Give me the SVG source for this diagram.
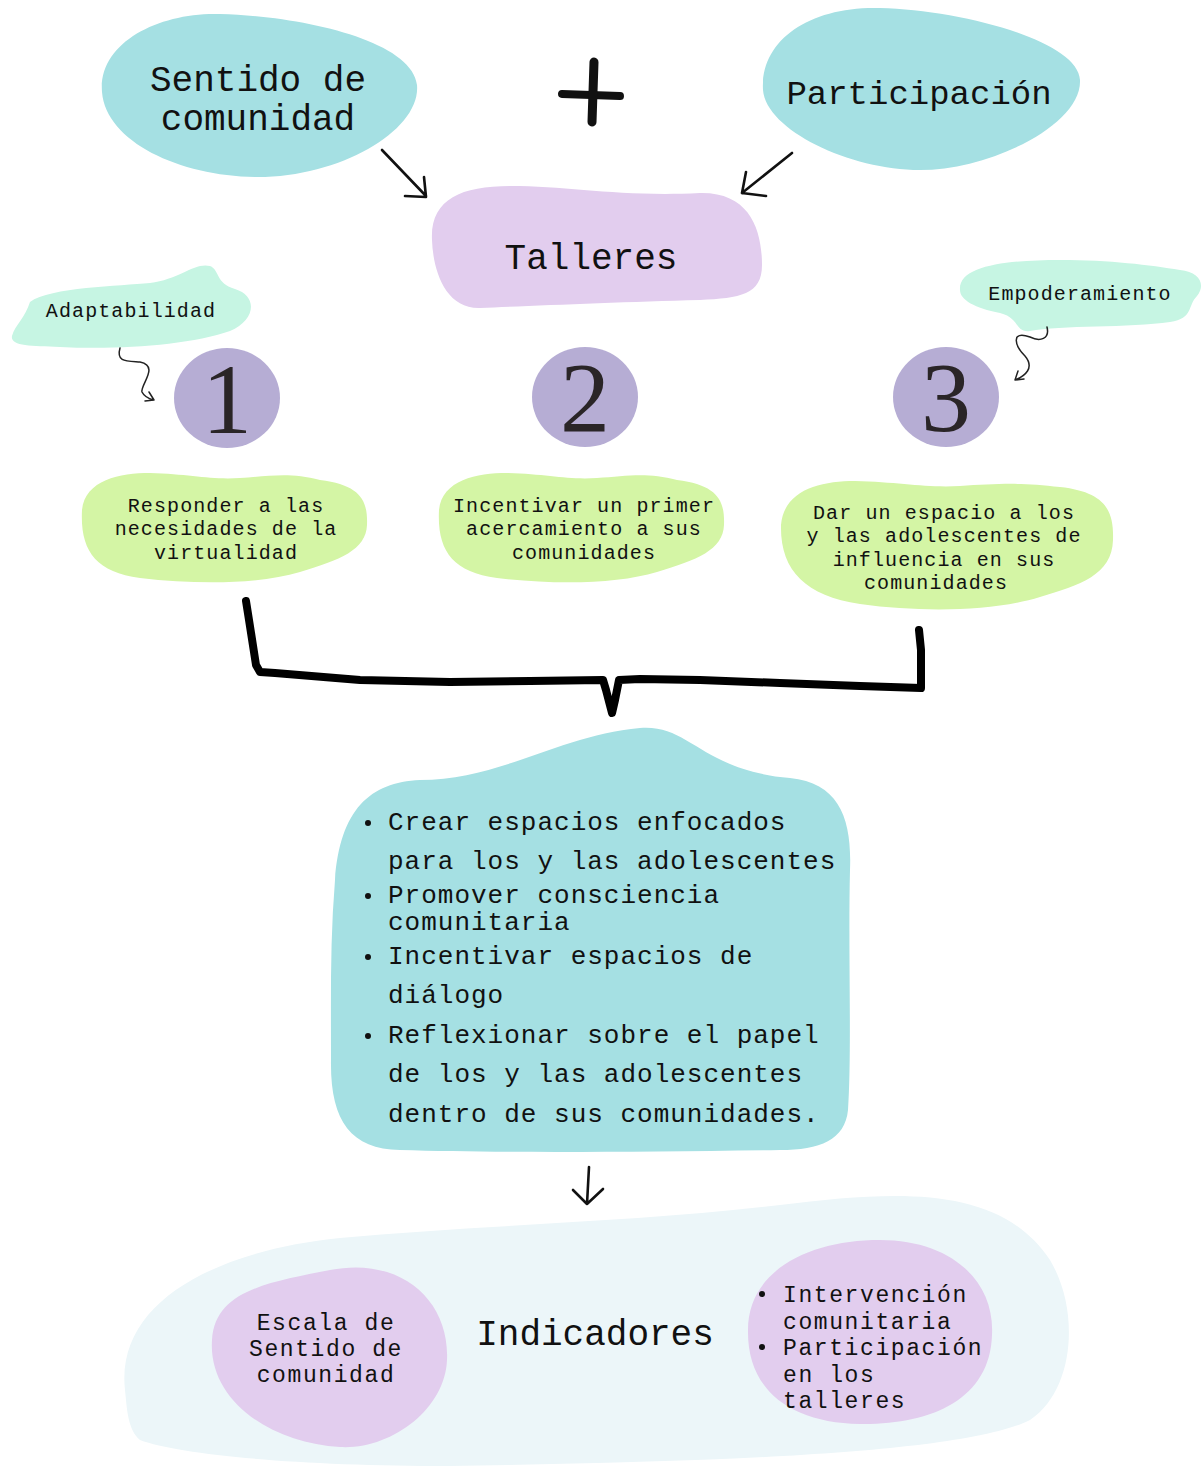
<svg xmlns="http://www.w3.org/2000/svg" width="1204" height="1466" viewBox="0 0 1204 1466">
<style>
.t{font-family:"Liberation Mono","DejaVu Sans Mono",monospace;fill:#111;text-anchor:middle}
.big{font-size:36px}
.sm{font-size:20px;letter-spacing:1.1px}
.md{font-size:26px;letter-spacing:1px;text-anchor:start}
.bt{font-size:23px;letter-spacing:1.6px}
.bs{text-anchor:start}
.num{font-family:"Liberation Serif","DejaVu Serif",serif;font-size:100px;fill:#2a2527;text-anchor:middle}
.teal{fill:#a5e0e3}.lav{fill:#e2cdee}.mint{fill:#c6f5e3}.green{fill:#d4f5a5}.circ{fill:#b6add4}
.ln{fill:none;stroke:#111;stroke-width:2.6;stroke-linecap:round;stroke-linejoin:round}
.thin{fill:none;stroke:#222;stroke-width:1.5;stroke-linecap:round;stroke-linejoin:round}
</style>
<rect width="1204" height="1466" fill="#fff"/>
<g id="sentido">
<path class="teal" d="M102,92 C98,42 160,12 220,14 C300,16 412,40 417,85 C421,130 340,178 255,177 C180,176 106,142 102,92 Z"/>
<text class="t big" x="258" y="91">Sentido de</text>
<text class="t big" x="258" y="130">comunidad</text>
</g>
<g id="plus">
<path d="M562,94 L620,96" stroke="#111" stroke-width="8" stroke-linecap="round"/>
<path d="M594,62 L592,122" stroke="#111" stroke-width="9" stroke-linecap="round"/>
</g>
<g id="participacion">
<path class="teal" d="M763,90 C760,40 810,6 880,8 C960,10 1078,40 1080,80 C1082,125 990,170 920,170 C850,170 766,130 763,90 Z"/>
<text class="t" x="919" y="104" font-size="34">Participación</text>
</g>
<g id="talleres">
<path class="lav" d="M432,240 C430,200 460,186 510,186 C570,186 620,197 700,193 C750,192 762,230 762,265 C762,295 740,298 700,300 C620,302 530,306 480,308 C445,309 433,270 432,240 Z"/>
<text class="t big" x="591" y="269">Talleres</text>
</g>
<g id="adaptabilidad">
<path class="mint" d="M30,302 C50,287 120,286 150,283 C180,279 195,262 210,266 C220,270 215,283 235,289 C258,296 256,320 230,331 C190,345 120,350 60,347 C30,346 10,346 12,336 C15,325 25,318 30,302 Z"/>
<text class="t sm" x="131" y="317">Adaptabilidad</text>
</g>
<g id="empoderamiento">
<path class="mint" d="M960,290 C958,265 1010,260 1060,260 C1110,260 1150,265 1180,270 C1200,272 1206,285 1197,296 C1187,306 1194,318 1170,322 C1130,328 1060,325 1030,331 C1015,333 1020,318 1000,313 C975,308 960,300 960,290 Z"/>
<text class="t sm" x="1080" y="300">Empoderamiento</text>
</g>
<g id="n1">
<ellipse class="circ" cx="227" cy="398" rx="53" ry="50"/>
<text class="num" x="227" y="433">1</text>
</g>
<g id="n2">
<ellipse class="circ" cx="585" cy="397" rx="53" ry="50"/>
<text class="num" x="585" y="431">2</text>
</g>
<g id="n3">
<ellipse class="circ" cx="946" cy="397" rx="53" ry="50"/>
<text class="num" x="946" y="431">3</text>
</g>
<g id="obj1">
<path class="green" d="M82,510 C85,480 120,473 150,473 C190,474 210,480 240,478 C270,476 290,472 320,480 C360,485 368,500 367,525 C366,550 340,560 300,572 C260,584 200,585 140,578 C95,572 80,550 82,510 Z"/>
<text class="t sm" x="226" y="512">Responder a las</text>
<text class="t sm" x="226" y="535">necesidades de la</text>
<text class="t sm" x="226" y="559">virtualidad</text>
</g>
<g id="obj2">
<path class="green" d="M439,510 C442,480 477,473 507,473 C547,474 567,480 597,478 C627,476 647,472 677,480 C717,485 725,500 724,525 C723,550 697,560 657,572 C617,584 557,585 497,578 C452,572 437,550 439,510 Z"/>
<text class="t sm" x="584" y="512">Incentivar un primer</text>
<text class="t sm" x="584" y="535">acercamiento a sus</text>
<text class="t sm" x="584" y="559">comunidades</text>
</g>
<g id="obj3">
<path class="green" d="M781,525 C784,490 820,481 855,481 C900,482 925,488 960,486 C995,484 1020,482 1060,487 C1105,492 1114,510 1113,540 C1112,575 1080,585 1040,597 C995,611 925,613 860,604 C805,596 780,570 781,525 Z"/>
<text class="t sm" x="944" y="519">Dar un espacio a los</text>
<text class="t sm" x="944" y="542">y las adolescentes de</text>
<text class="t sm" x="944" y="566">influencia en sus</text>
<text class="t sm" x="936" y="589">comunidades</text>
</g>
<g id="objetivos">
<path class="teal" d="M335,880 C340,810 370,782 420,780 C500,780 560,735 640,728 C690,724 700,770 790,778 C840,783 852,820 850,870 C848,950 852,1050 848,1110 C845,1140 820,1150 780,1150 C640,1152 500,1153 400,1150 C350,1149 330,1120 331,1060 C331,1000 330,940 335,880 Z"/>
<g fill="#111"><circle cx="368" cy="823" r="3"/><circle cx="368" cy="896" r="3"/><circle cx="368" cy="957" r="3"/><circle cx="368" cy="1036" r="3"/></g>
<text class="t md" x="388" y="830">Crear espacios enfocados</text>
<text class="t md" x="388" y="869">para los y las adolescentes</text>
<text class="t md" x="388" y="903">Promover consciencia</text>
<text class="t md" x="388" y="930">comunitaria</text>
<text class="t md" x="388" y="964">Incentivar espacios de</text>
<text class="t md" x="388" y="1003">diálogo</text>
<text class="t md" x="388" y="1043">Reflexionar sobre el papel</text>
<text class="t md" x="388" y="1082">de los y las adolescentes</text>
<text class="t md" x="388" y="1122">dentro de sus comunidades.</text>
</g>
<g id="indicadores">
<path fill="#ecf6f9" d="M125,1390 C115,1300 220,1250 340,1238 C480,1225 640,1222 780,1205 C900,1190 1000,1185 1050,1260 C1080,1310 1075,1390 1030,1420 C960,1455 700,1462 450,1466 C300,1466 180,1455 140,1440 C128,1430 127,1410 125,1390 Z"/>
<text class="t big" x="595" y="1345">Indicadores</text>
</g>
<g id="escala">
<path class="lav" d="M212,1340 C215,1290 270,1282 330,1270 C400,1256 450,1300 447,1360 C445,1410 390,1450 340,1447 C270,1443 208,1400 212,1340 Z"/>
<text class="t bt" x="326" y="1330">Escala de</text>
<text class="t bt" x="326" y="1356">Sentido de</text>
<text class="t bt" x="326" y="1382">comunidad</text>
</g>
<g id="medidas">
<path class="lav" d="M748,1330 C748,1270 810,1240 880,1240 C950,1240 995,1280 992,1335 C990,1400 930,1425 860,1424 C790,1423 747,1390 748,1330 Z"/>
<g fill="#111"><circle cx="762" cy="1294" r="3"/><circle cx="762" cy="1347" r="3"/></g>
<text class="t bt bs" x="783" y="1302">Intervención</text>
<text class="t bt bs" x="783" y="1329">comunitaria</text>
<text class="t bt bs" x="783" y="1355">Participación</text>
<text class="t bt bs" x="783" y="1382">en los</text>
<text class="t bt bs" x="783" y="1408">talleres</text>
</g>
<g id="connectors">
<path class="ln" d="M382,150 L426,196 M405,196 L426,197 L424,177"/>
<path class="ln" d="M792,153 L742,193 M766,196 L742,193 L746,172"/>
<path class="thin" d="M120,348 C116,362 126,361 140,362 C160,366 140,385 142,392 C145,398 150,399 154,400 M145,401 L154,400 L149,392"/>
<path class="thin" d="M1047,327 C1050,339 1040,342 1030,337 C1010,330 1015,346 1025,356 C1035,368 1025,376 1015,380 M1024,379 L1015,380 L1018,371"/>
<path d="M246,601 L249,620 L256,665 L260,672 L275,673 L360,680 L450,682 L530,681 L603,680 L606,690 L612,713 L615,700 L619,680 L640,679 L700,680 L780,683 L860,686 L921,688 L921,650 L919,630" fill="none" stroke="#000" stroke-width="8" stroke-linecap="round" stroke-linejoin="round"/>
<path class="ln" d="M589,1167 L587,1204 M573,1190 L587,1204 L603,1189"/>
</g>
</svg>
